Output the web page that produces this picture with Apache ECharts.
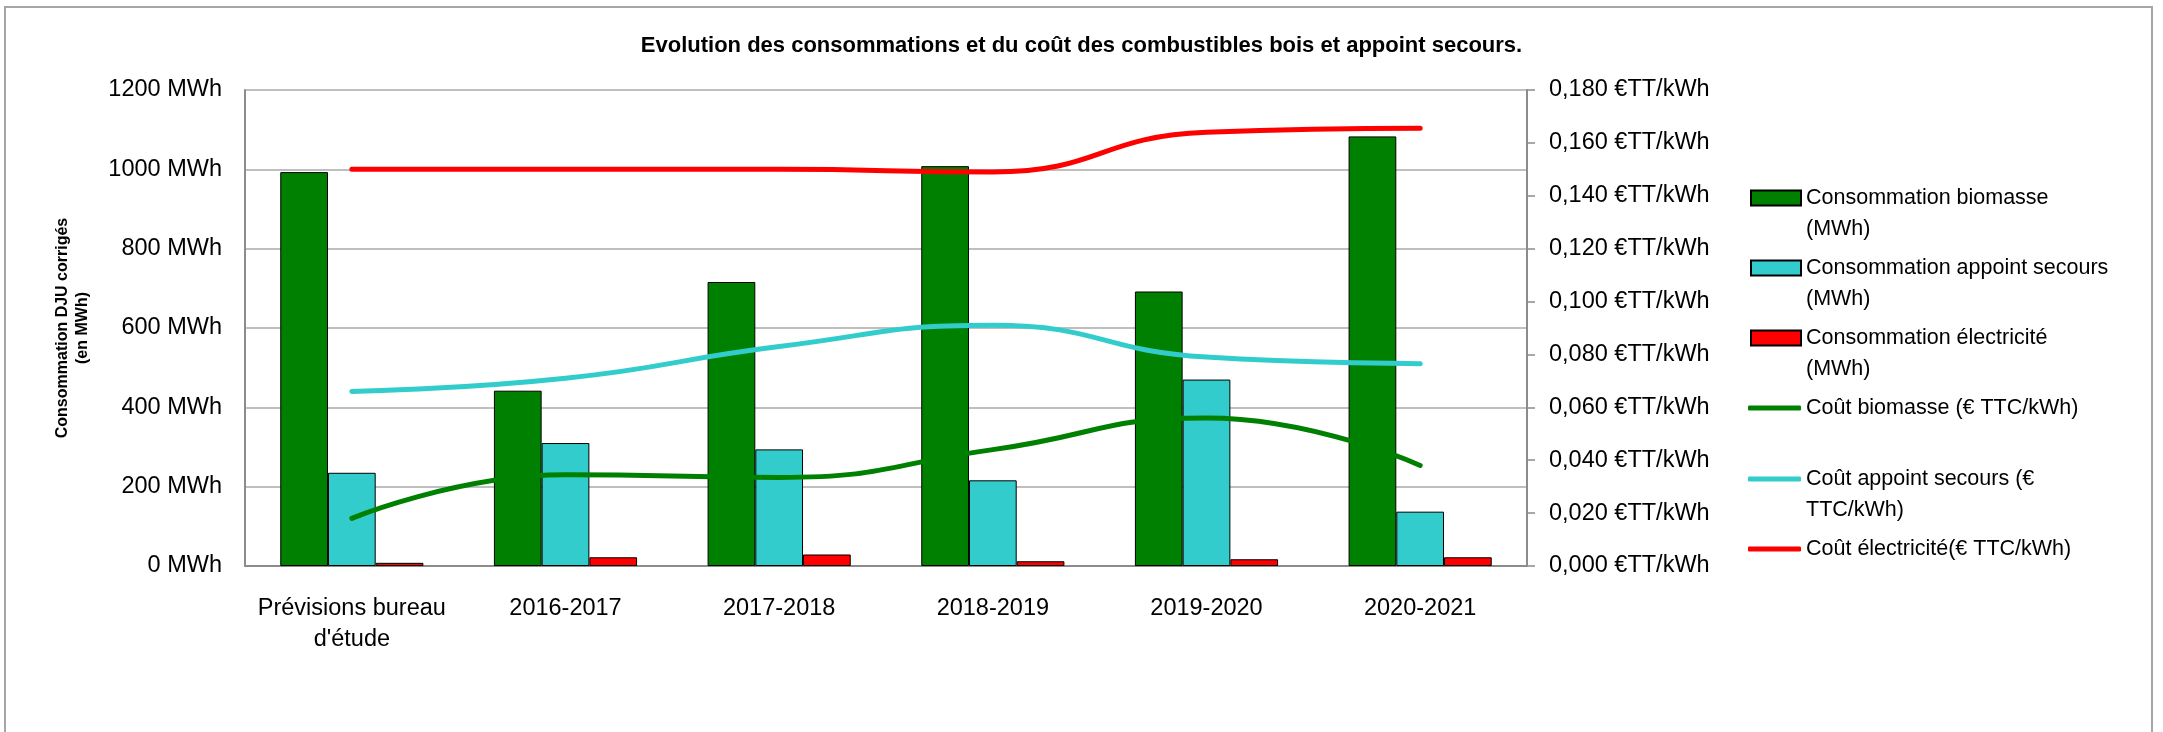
<!DOCTYPE html>
<html><head><meta charset="utf-8">
<script src="https://cdn.jsdelivr.net/npm/echarts@6/dist/echarts.min.js"></script>
<style>html,body{margin:0;padding:0;background:#fff}#c{width:2163px;height:732px}</style>
</head><body><div id="c"></div>
<script>
const categories = ['Prévisions bureau\nd\'étude', '2016-2017', '2017-2018', '2018-2019', '2019-2020', '2020-2021'];
const consoBiomasse = [993, 442, 716, 1008, 692, 1083];
const consoAppoint = [235, 310, 294, 216, 470, 137];
const consoElec = [8, 22, 29, 12, 17, 22];
const coutBiomasse = [0.018, 0.0345, 0.0335, 0.044, 0.056, 0.038];
const coutAppoint = [0.066, 0.071, 0.083, 0.091, 0.079, 0.0765];
const coutElec = [0.150, 0.150, 0.150, 0.149, 0.164, 0.1655];
const leftTickLabels = ['0 MWh', '200 MWh', '400 MWh', '600 MWh', '800 MWh', '1000 MWh', '1200 MWh'];
const rightTickLabels = ['0,000 €TT/kWh', '0,020 €TT/kWh', '0,040 €TT/kWh', '0,060 €TT/kWh', '0,080 €TT/kWh',
  '0,100 €TT/kWh', '0,120 €TT/kWh', '0,140 €TT/kWh', '0,160 €TT/kWh', '0,180 €TT/kWh'];
const seriesNames = ['Consommation biomasse (MWh)', 'Consommation appoint secours (MWh)', 'Consommation électricité (MWh)',
  'Coût biomasse (€ TTC/kWh)', 'Coût appoint secours (€ TTC/kWh)', 'Coût électricité(€ TTC/kWh)'];
const legendLines = [['Consommation biomasse', '(MWh)'], ['Consommation appoint secours', '(MWh)'], ['Consommation électricité', '(MWh)'],
  ['Coût biomasse (€ TTC/kWh)'], ['Coût appoint secours (€', 'TTC/kWh)'], ['Coût électricité(€ TTC/kWh)']];
const titleText = 'Evolution des consommations et du coût des combustibles bois et appoint secours.';
const yAxisName = 'Consommation DJU corrigés\n(en MWh)';

const FONT = 'Liberation Sans';
const FS = 23.5;
const LFS = 21.5;
const LH = 31;
const colors = ['#008000', '#33CCCC', '#FF0000'];

const chart = echarts.init(document.getElementById('c'), null, {renderer: 'canvas'});

const legendCenters = [198, 268, 338, 408, 479, 549];
const legends = seriesNames.map((name, i) => {
  const lines = legendLines[i];
  const twoLine = lines.length > 1;
  const text = twoLine ? '\n' + lines[0] + '\n' + lines[1] : lines[0];
  const h = twoLine ? 3 * LH : LH;
  const isBar = i < 3;
  return {
    show: true,
    orient: 'vertical',
    left: isBar ? 1750 : 1748,
    top: legendCenters[i] - h / 2,
    padding: 0,
    itemWidth: isBar ? 50 : 53,
    itemHeight: isBar ? 15 : 5,
    itemGap: 0,
    selectedMode: false,
    data: [{name: name, icon: isBar ? 'rect' : 'roundRect'}],
    formatter: () => text,
    textStyle: {fontFamily: FONT, fontSize: LFS, color: '#000', lineHeight: LH, padding: 0}
  };
});

const barSeries = [consoBiomasse, consoAppoint, consoElec].map((d, i) => ({
  name: seriesNames[i],
  type: 'bar',
  yAxisIndex: 0,
  data: d,
  barGap: '0%',
  barCategoryGap: '33%',
  itemStyle: {color: colors[i], borderColor: '#000', borderWidth: 1},
  emphasis: {disabled: true},
  z: 2
}));
const lineSeries = [coutBiomasse, coutAppoint, coutElec].map((d, i) => ({
  name: seriesNames[3 + i],
  type: 'line',
  yAxisIndex: 1,
  data: d,
  smooth: 0.5,
  symbol: 'none',
  lineStyle: {color: colors[i], width: 5, cap: 'round'},
  itemStyle: {color: colors[i]},
  emphasis: {disabled: true},
  z: 5
}));

const option = {
  animation: false,
  backgroundColor: '#fff',
  title: {
    text: titleText,
    left: 'center',
    top: 30,
    textStyle: {fontFamily: FONT, fontSize: 22, fontWeight: 'bold', color: '#000'}
  },
  graphic: [{
    type: 'rect',
    shape: {x: 5, y: 7, width: 2147, height: 900},
    style: {fill: 'none', stroke: '#A6A6A6', lineWidth: 2},
    silent: true
  }],
  legend: legends,
  grid: {left: 245, right: 636, top: 90, bottom: 166},
  xAxis: {
    type: 'category',
    data: categories,
    axisLine: {lineStyle: {color: '#8C8C8C', width: 2}},
    axisTick: {show: false},
    axisLabel: {interval: 0, margin: 27, fontFamily: FONT, fontSize: FS, color: '#000', lineHeight: LH}
  },
  yAxis: [{
    type: 'value',
    min: 0, max: 1200, interval: 200,
    name: yAxisName,
    nameLocation: 'middle',
    nameGap: 152,
    nameTextStyle: {fontFamily: FONT, fontSize: 16, fontWeight: 'bold', color: '#000', lineHeight: 20},
    axisLine: {show: true, lineStyle: {color: '#8C8C8C', width: 2}},
    axisTick: {show: false},
    splitLine: {lineStyle: {color: '#BFBFBF', width: 2}},
    axisLabel: {margin: 23, fontFamily: FONT, fontSize: FS, color: '#000',
      formatter: v => leftTickLabels[Math.round(v / 200)]}
  }, {
    type: 'value',
    position: 'right',
    min: 0, max: 0.18, interval: 0.02,
    axisLine: {show: true, lineStyle: {color: '#8C8C8C', width: 2}},
    axisTick: {show: true, length: 8, lineStyle: {color: '#8C8C8C', width: 1.5}},
    splitLine: {show: false},
    axisLabel: {margin: 22, fontFamily: FONT, fontSize: FS, color: '#000',
      formatter: v => rightTickLabels[Math.round(v / 0.02)]}
  }],
  series: barSeries.concat(lineSeries)
};
chart.setOption(option);
</script>
</body></html>
